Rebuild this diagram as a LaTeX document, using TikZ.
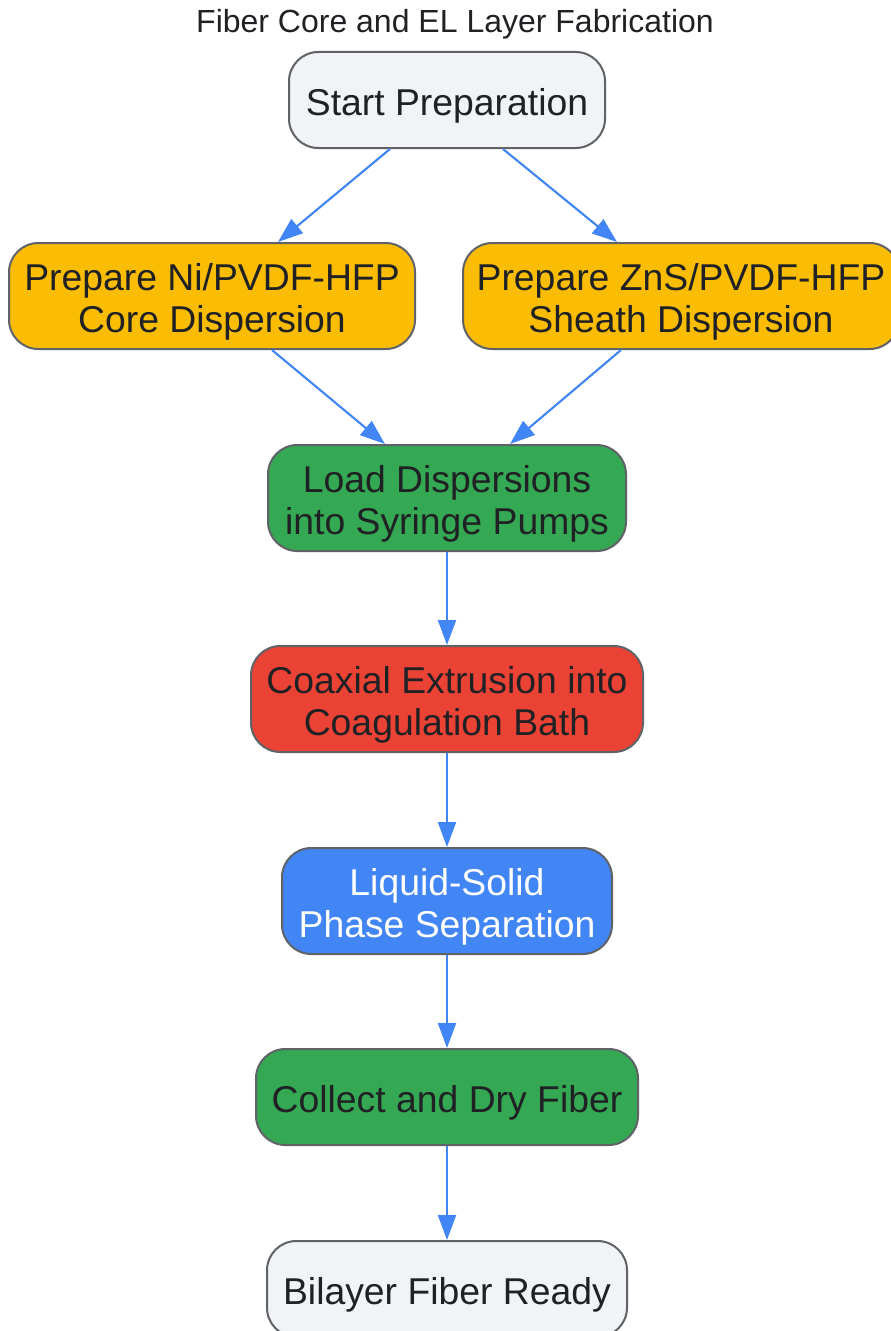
\documentclass[tikz,border=0pt]{standalone}
\usepackage{fontspec}
\setmainfont{Liberation Sans}
\usetikzlibrary{arrows.meta}
\definecolor{txt}{HTML}{202124}
\definecolor{bord}{HTML}{5F6368}
\definecolor{gry}{HTML}{F1F3F4}
\definecolor{yel}{HTML}{FBBC04}
\definecolor{grn}{HTML}{34A853}
\definecolor{rd}{HTML}{EA4335}
\definecolor{blu}{HTML}{4285F4}
\begin{document}
\begin{tikzpicture}[x=0.75pt,y=-0.75pt,
  box/.style={draw=bord,line width=1.5pt,rounded corners=22pt,inner sep=0pt},
  lbl/.style={align=center,text=txt,font=\fontsize{28}{31.5}\selectfont,inner sep=0pt},
  conn/.style={draw=blu,line width=1.6pt,-{Triangle[length=25*0.75pt,width=18*0.75pt]}}]
\useasboundingbox (0,0) rectangle (891,1331);
\clip (0,0) rectangle (891,1331);
\node[font=\fontsize{24}{27}\selectfont,text=txt] (title) at (455,24) {Fiber Core and EL Layer Fabrication};
\node[box,fill=gry,minimum width=316*0.75pt,minimum height=96*0.75pt] (start) at (447,100) {};
\node[box,fill=yel,minimum width=406*0.75pt,minimum height=106*0.75pt] (ni) at (212,296) {};
\node[box,fill=yel,minimum width=436*0.75pt,minimum height=106*0.75pt] (zns) at (681,296) {};
\node[box,fill=grn,minimum width=358*0.75pt,minimum height=106*0.75pt] (load) at (447,498) {};
\node[box,fill=rd,minimum width=392*0.75pt,minimum height=106*0.75pt] (coax) at (447,699) {};
\node[box,fill=blu,minimum width=330*0.75pt,minimum height=106*0.75pt] (liq) at (447,901) {};
\node[box,fill=grn,minimum width=382*0.75pt,minimum height=96*0.75pt] (coll) at (447,1097) {};
\node[box,fill=gry,minimum width=360*0.75pt,minimum height=96*0.75pt] (ready) at (447,1289) {};
\node[lbl] (tstart) at ([yshift=-6*0.75pt]start.center) {Start Preparation};
\node[lbl] (tni) at ([yshift=-6*0.75pt]ni.center) {Prepare Ni/PVDF-HFP\\Core Dispersion};
\node[lbl] (tzns) at ([yshift=-6*0.75pt]zns.center) {Prepare ZnS/PVDF-HFP\\Sheath Dispersion};
\node[lbl] (tload) at ([yshift=-6*0.75pt]load.center) {Load Dispersions\\into Syringe Pumps};
\node[lbl] (tcoax) at ([yshift=-6*0.75pt]coax.center) {Coaxial Extrusion into\\Coagulation Bath};
\node[lbl,text=white] (tliq) at ([yshift=-6*0.75pt]liq.center) {Liquid-Solid\\Phase Separation};
\node[lbl] (tcoll) at ([yshift=-6*0.75pt]coll.center) {Collect and Dry Fiber};
\node[lbl] (tready) at ([yshift=-6*0.75pt]ready.center) {Bilayer Fiber Ready};
\draw[conn] ([xshift=-57*0.75pt]start.south) -- ([xshift=66*0.75pt]ni.north);
\draw[conn] ([xshift=56*0.75pt]start.south) -- ([xshift=-64*0.75pt]zns.north);
\draw[conn] ([xshift=60*0.75pt]ni.south) -- ([xshift=-62*0.75pt]load.north);
\draw[conn] ([xshift=-60*0.75pt]zns.south) -- ([xshift=63*0.75pt]load.north);
\draw[conn] (load.south) -- (coax.north);
\draw[conn] (coax.south) -- (liq.north);
\draw[conn] (liq.south) -- (coll.north);
\draw[conn] (coll.south) -- (ready.north);
\end{tikzpicture}
\end{document}
